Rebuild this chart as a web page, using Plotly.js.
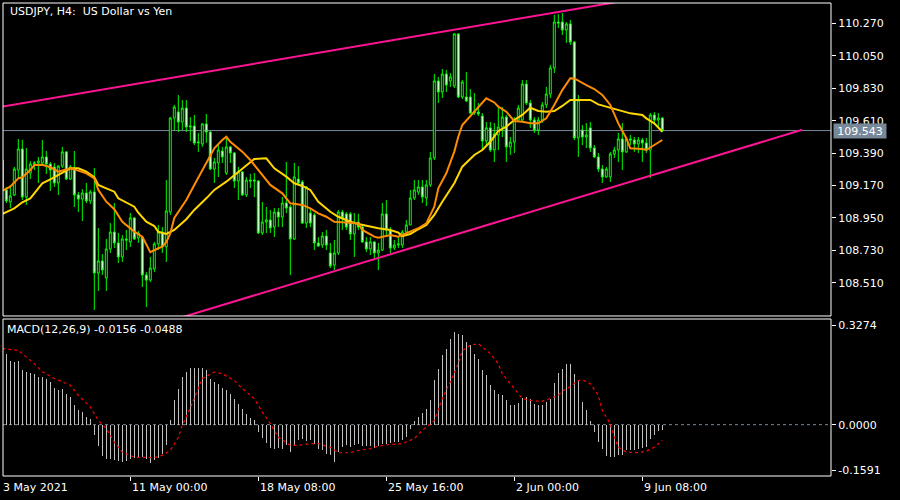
<!DOCTYPE html>
<html>
<head>
<meta charset="utf-8">
<script src="https://cdn.plot.ly/plotly-3.0.1.min.js"></script>
<style>html,body{margin:0;padding:0;background:#000;}#chart{width:900px;height:500px;}</style>
</head>
<body>
<div id="chart"></div>
<script>
// ---------- DATA (USDJPY H4, one value per bar) ----------
const opens = [109.343,109.140,109.058,109.106,109.275,109.418,109.092,109.255,109.316,109.323,
109.323,109.364,109.316,109.296,109.187,109.302,109.398,109.214,109.282,109.106,
109.078,109.119,109.065,109.126,108.576,108.658,108.542,108.739,108.854,108.780,
108.685,108.807,108.787,108.950,108.814,108.820,108.562,108.528,108.603,108.773,
108.854,108.753,108.990,109.628,109.669,109.601,109.696,109.567,109.574,109.459,
109.452,109.588,109.533,109.282,109.323,109.404,109.255,109.432,109.391,109.201,
109.262,109.106,109.207,109.207,109.201,108.848,108.922,108.936,108.888,108.990,
108.956,109.051,109.024,108.807,109.214,109.194,108.915,108.983,108.970,108.780,
108.766,108.827,108.712,108.630,108.712,108.990,108.977,108.977,108.841,108.922,
108.888,108.787,108.739,108.787,108.712,108.732,108.977,108.868,108.746,108.766,
108.766,108.854,108.902,109.085,109.126,109.160,109.085,109.174,109.357,109.880,
109.805,109.927,109.880,109.846,110.199,109.771,109.771,109.771,109.662,109.669,
109.642,109.472,109.561,109.411,109.513,109.567,109.635,109.432,109.465,109.615,
109.615,109.859,109.730,109.615,109.547,109.615,109.717,109.791,109.968,110.280,
110.280,110.226,110.267,110.144,109.493,109.547,109.499,109.561,109.425,109.364,
109.282,109.228,109.228,109.384,109.411,109.486,109.398,109.486,109.479,109.452,
109.479,109.459,109.411,109.649,109.615,109.628];
const highs = [109.377,109.160,109.174,109.296,109.486,109.479,109.425,109.336,109.336,109.364,
109.479,109.404,109.330,109.323,109.309,109.432,109.404,109.309,109.404,109.126,
109.146,109.187,109.140,109.289,108.882,108.705,108.807,108.915,109.051,108.848,
108.834,108.868,108.983,108.956,108.861,108.827,108.583,108.685,108.787,108.902,
108.888,109.207,109.635,109.717,109.784,109.751,109.751,109.635,109.649,109.527,
109.594,109.656,109.540,109.357,109.445,109.432,109.499,109.438,109.398,109.296,
109.269,109.228,109.248,109.255,109.207,109.058,109.024,109.004,109.017,109.017,
109.092,109.330,109.038,109.323,109.302,109.207,109.167,109.017,108.983,108.820,
108.854,108.868,108.780,108.800,109.004,109.004,108.990,108.990,108.983,108.977,
108.895,108.820,108.820,108.793,108.780,109.051,109.072,108.888,108.800,108.820,
108.868,108.936,109.140,109.207,109.207,109.207,109.207,109.398,109.927,109.907,
109.961,109.954,109.934,110.205,110.205,109.886,109.941,109.825,109.798,109.730,
109.662,109.601,109.601,109.594,109.696,109.703,109.649,109.499,109.635,109.717,
109.886,109.886,109.751,109.635,109.635,109.737,109.839,109.988,110.328,110.334,
110.341,110.280,110.294,110.151,109.784,109.581,109.594,109.601,109.445,109.391,
109.309,109.296,109.398,109.432,109.527,109.594,109.499,109.513,109.499,109.499,
109.493,109.493,109.662,109.669,109.662,109.635];
const lows = [109.140,109.051,109.017,109.099,109.221,109.072,109.038,109.214,109.275,109.187,
109.309,109.248,109.133,109.160,109.106,109.289,109.207,109.207,109.024,108.990,
108.929,109.051,109.044,108.325,108.454,108.562,108.454,108.712,108.746,108.644,
108.651,108.732,108.753,108.800,108.780,108.481,108.345,108.515,108.583,108.732,
108.712,108.651,108.970,109.547,109.533,109.547,109.533,109.472,109.445,109.398,
109.432,109.459,109.275,109.187,109.228,109.323,109.241,109.323,109.153,109.072,
109.099,109.092,109.153,109.092,108.841,108.834,108.848,108.848,108.820,108.888,
108.888,108.983,108.562,108.800,109.174,108.909,108.882,108.888,108.732,108.753,
108.746,108.732,108.610,108.596,108.698,108.868,108.868,108.800,108.685,108.868,
108.780,108.719,108.698,108.678,108.596,108.725,108.820,108.712,108.732,108.746,
108.746,108.848,108.902,109.072,109.106,109.051,109.031,109.160,109.343,109.730,
109.764,109.805,109.839,109.832,109.764,109.757,109.737,109.656,109.649,109.642,
109.411,109.445,109.398,109.330,109.411,109.499,109.330,109.377,109.391,109.601,
109.601,109.717,109.561,109.527,109.513,109.594,109.696,109.764,109.934,110.239,
110.192,110.138,110.124,109.479,109.364,109.445,109.425,109.398,109.357,109.262,
109.187,109.221,109.194,109.357,109.330,109.275,109.391,109.445,109.398,109.391,
109.330,109.391,109.221,109.581,109.561,109.533];
const closes = [109.153,109.065,109.099,109.282,109.418,109.092,109.282,109.316,109.323,109.336,
109.364,109.316,109.275,109.187,109.302,109.398,109.214,109.296,109.106,109.078,
109.119,109.065,109.126,108.576,108.658,108.596,108.739,108.854,108.780,108.685,
108.807,108.800,108.950,108.807,108.848,108.562,108.528,108.610,108.773,108.854,
108.753,108.997,109.628,109.703,109.601,109.696,109.567,109.574,109.459,109.465,
109.588,109.533,109.282,109.330,109.411,109.364,109.432,109.391,109.201,109.262,
109.106,109.207,109.201,109.201,108.848,108.922,108.936,108.882,108.990,108.956,
109.051,109.017,108.807,109.228,109.187,108.915,109.160,108.915,108.780,108.759,
108.827,108.766,108.624,108.712,108.990,108.950,108.888,108.841,108.922,108.888,
108.787,108.739,108.787,108.712,108.732,108.977,108.868,108.746,108.766,108.773,
108.854,108.902,109.085,109.140,109.160,109.092,109.174,109.357,109.880,109.805,
109.927,109.852,109.907,110.199,109.771,109.873,109.744,109.662,109.669,109.656,
109.472,109.561,109.411,109.520,109.567,109.635,109.432,109.465,109.615,109.696,
109.859,109.730,109.615,109.547,109.615,109.717,109.791,109.968,110.280,110.273,
110.226,110.267,110.144,109.493,109.751,109.499,109.513,109.425,109.364,109.282,
109.228,109.282,109.384,109.411,109.486,109.398,109.486,109.479,109.452,109.479,
109.459,109.411,109.649,109.615,109.628,109.543];

// fast moving average (orange), read at sampled bars
const fastMaBars = [0,2,4,5,7,8,10,12,14,16,17,19,21,23,24,26,28,30,33,35,36,37,39,40,41,42,43,46,48,51,53,55,56,57,60,62,65,67,70,72,75,77,79,81,83,85,89,90,93,94,97,99,102,104,106,108,109,111,113,114,115,117,119,121,123,124,126,128,130,132,134,136,138,140,142,143,146,148,150,152,154,156,157,160,161,163,165];
const fastMaVals = [109.135,109.162,109.219,109.226,109.275,109.309,109.311,109.294,109.264,109.282,
109.287,109.271,109.253,109.219,109.140,109.060,109.009,108.924,108.857,108.823,
108.766,108.717,108.744,108.755,108.785,108.845,108.950,109.072,109.174,109.321,
109.423,109.479,109.501,109.467,109.400,109.343,109.241,109.174,109.117,109.049,
109.038,109.015,108.981,108.958,108.924,108.920,108.913,108.868,108.823,108.816,
108.834,108.823,108.857,108.880,108.913,109.026,109.151,109.253,109.400,109.501,
109.581,109.642,109.705,109.762,109.734,109.705,109.671,109.608,109.603,109.592,
109.592,109.626,109.717,109.818,109.898,109.897,109.852,109.825,109.785,109.717,
109.592,109.491,109.423,109.418,109.411,109.445,109.479];
// slow moving average (gold)
const slowMaBars = [0,3,5,7,9,10,12,14,16,17,19,21,23,24,26,28,29,31,33,34,36,38,39,41,43,46,48,51,53,56,58,61,63,66,68,71,73,75,77,79,82,84,87,89,92,94,97,99,100,102,104,106,108,110,113,115,118,120,122,124,126,128,130,132,134,136,138,140,142,145,147,149,151,153,155,157,160,161,163,165];
const slowMaVals = [108.977,109.015,109.056,109.083,109.151,109.185,109.212,109.241,109.275,109.287,
109.287,109.264,109.226,109.174,109.151,109.128,109.083,109.053,109.026,108.985,
108.924,108.895,108.856,108.841,108.868,108.941,109.004,109.083,109.140,109.196,
109.241,109.303,109.350,109.355,109.287,109.230,109.185,109.167,109.140,109.060,
108.992,108.958,108.924,108.909,108.890,108.880,108.868,108.850,108.827,108.841,
108.873,108.902,108.970,109.060,109.185,109.298,109.377,109.411,109.467,109.540,
109.569,109.615,109.649,109.698,109.676,109.671,109.676,109.710,109.751,109.753,
109.751,109.721,109.705,109.690,109.671,109.660,109.649,109.626,109.592,109.535];

// trend lines (bar, price anchor points)
const upperTrendBars = [0, 160];
const upperTrendPrices = [109.706, 110.445];
const lowerTrendBars = [40, 200];
const lowerTrendPrices = [108.235, 109.548];

const lastPrice = 109.543;

// MACD(12,26,9)
const macdHist = [0.221,0.220,0.197,0.195,0.197,0.170,0.164,0.160,0.158,0.149,0.148,
0.143,0.133,0.114,0.106,0.109,0.096,0.087,0.062,0.046,0.038,
0.024,0.019,-0.033,-0.067,-0.097,-0.105,-0.107,-0.111,-0.113,-0.116,
-0.114,-0.105,-0.103,-0.103,-0.101,-0.105,-0.118,-0.111,-0.103,-0.090,
-0.064,0.013,0.075,0.112,0.148,0.164,0.177,0.177,0.177,0.177,
0.168,0.143,0.133,0.127,0.115,0.108,0.096,0.081,0.065,0.050,
0.032,0.022,0.013,-0.023,-0.041,-0.056,-0.072,-0.074,-0.072,-0.074,
-0.064,-0.085,-0.066,-0.046,-0.043,-0.051,-0.049,-0.059,-0.074,-0.080,
-0.090,-0.095,-0.116,-0.085,-0.070,-0.064,-0.070,-0.064,-0.061,-0.067,
-0.067,-0.067,-0.072,-0.067,-0.061,-0.059,-0.056,-0.054,-0.054,-0.049,
-0.039,-0.012,0.010,0.024,0.036,0.050,0.075,0.137,0.174,0.215,
0.236,0.267,0.288,0.280,0.277,0.257,0.246,0.220,0.205,0.170,
0.153,0.122,0.106,0.096,0.091,0.075,0.060,0.060,0.067,0.084,
0.087,0.081,0.065,0.060,0.060,0.071,0.081,0.129,0.160,0.174,
0.189,0.189,0.158,0.137,0.071,0.044,0.010,-0.023,-0.054,-0.074,
-0.097,-0.101,-0.101,-0.095,-0.095,-0.080,-0.077,-0.077,-0.074,-0.072,
-0.070,-0.043,-0.033,-0.020,-0.0156];
const signalBars = [0,4,6,8,10,13,15,17,19,22,24,26,28,30,33,35,38,40,42,44,45,47,49,50,53,55,58,60,63,65,67,69,72,74,77,79,82,84,87,89,92,94,97,100,103,105,108,110,112,114,115,117,119,120,122,124,125,127,129,130,133,135,137,139,140,142,144,145,147,149,150,152,153,154,156,159,161,163,165];
const signalVals = [0.236,0.230,0.210,0.189,0.164,0.143,0.133,0.122,0.091,0.055,
0.013,-0.012,-0.054,-0.085,-0.101,-0.101,-0.102,-0.095,-0.080,-0.040,
-0.002,0.052,0.110,0.143,0.163,0.158,0.137,0.112,0.081,0.039,
0.003,-0.039,-0.064,-0.064,-0.059,-0.059,-0.070,-0.087,-0.087,-0.080,
-0.074,-0.067,-0.061,-0.059,-0.043,-0.018,0.013,0.081,0.133,0.189,
0.230,0.246,0.251,0.241,0.220,0.189,0.158,0.127,0.096,0.081,
0.073,0.073,0.081,0.091,0.104,0.118,0.137,0.139,0.127,0.091,
0.044,0.003,-0.039,-0.070,-0.085,-0.087,-0.082,-0.070,-0.0488];

const priceTicks = [110.270,110.050,109.830,109.610,109.390,109.170,108.950,108.730,108.510];
const macdTickText = ['0.3274','0.0000','-0.1591'];
const macdMax = 0.3274, macdMin = -0.1591;
const dateTickBars = [32,64,96,128,160];
const dateTickLabels = ['11 May 00:00','18 May 08:00','25 May 16:00','2 Jun 00:00','9 Jun 08:00'];
const firstDateLabel = '3 May 2021';
const chartTitle = 'USDJPY, H4:\u00a0 US Dollar vs Yen';
const macdTitle = 'MACD(12,26,9) -0.0156 -0.0488';

// ---------- CHART ----------
const barIndex = opens.map((_, i) => i);
const FONT = 'DejaVu Sans, Verdana, sans-serif';
const WHITE = '#ffffff';
const SLATE = '#778899';

const traces = [
  {type:'candlestick', x:barIndex, open:opens, high:highs, low:lows, close:closes,
   xaxis:'x', yaxis:'y', whiskerwidth:0, hoverinfo:'skip', showlegend:false,
   increasing:{line:{color:'#00ff00', width:1}, fillcolor:'#000000'},
   decreasing:{line:{color:'#00ff00', width:1}, fillcolor:'#ffffff'}},
  {type:'scatter', mode:'lines', x:slowMaBars, y:slowMaVals, xaxis:'x', yaxis:'y',
   line:{color:'#ffd700', width:2}, hoverinfo:'skip', showlegend:false},
  {type:'scatter', mode:'lines', x:fastMaBars, y:fastMaVals, xaxis:'x', yaxis:'y',
   line:{color:'#ff8c00', width:2}, hoverinfo:'skip', showlegend:false},
  {type:'scatter', mode:'lines', x:upperTrendBars, y:upperTrendPrices, xaxis:'x', yaxis:'y',
   line:{color:'#ff1493', width:2}, hoverinfo:'skip', showlegend:false},
  {type:'scatter', mode:'lines', x:lowerTrendBars, y:lowerTrendPrices, xaxis:'x', yaxis:'y',
   line:{color:'#ff1493', width:2}, hoverinfo:'skip', showlegend:false},
  {type:'bar', x:barIndex, y:macdHist, width:0.25, xaxis:'x', yaxis:'y2',
   marker:{color:'#c0c0c0', line:{width:0}}, hoverinfo:'skip', showlegend:false},
  {type:'scatter', mode:'lines', x:signalBars, y:signalVals, xaxis:'x', yaxis:'y2',
   line:{color:'#ff0000', width:1.2, dash:'3px,3px'}, hoverinfo:'skip', showlegend:false}
];

const pad = 6 / 322.7; // keep the edge labels inside the panel, as in the terminal
const annotations = [
  {xref:'paper', yref:'paper', x:0.006, y:0.981, xanchor:'left', yanchor:'middle', showarrow:false,
   text:chartTitle, font:{family:FONT, size:11, color:WHITE}},
  {xref:'paper', yref:'paper', x:0.003, y:0.309, xanchor:'left', yanchor:'middle', showarrow:false,
   text:macdTitle, font:{family:FONT, size:11, color:WHITE}},
  {xref:'paper', yref:'paper', x:-0.002, y:-0.024, xanchor:'left', yanchor:'middle', showarrow:false,
   text:firstDateLabel, font:{family:FONT, size:11, color:WHITE}},
  {xref:'paper', yref:'y', x:1.0025, y:lastPrice, xanchor:'left', yanchor:'middle', showarrow:false,
   text:lastPrice.toFixed(3), bgcolor:SLATE, width:50, height:12, borderpad:1,
   font:{family:FONT, size:11, color:WHITE}}
];
dateTickBars.forEach((b, i) => annotations.push({
  xref:'x', yref:'paper', x:b, y:-0.024, xanchor:'left', yanchor:'middle', showarrow:false,
  text:dateTickLabels[i], font:{family:FONT, size:11, color:WHITE}
}));

const shapes = [
  {type:'line', xref:'paper', yref:'y', x0:0, x1:1, y0:lastPrice, y1:lastPrice,
   line:{color:SLATE, width:1}, layer:'below'},
  {type:'line', xref:'paper', yref:'y2', x0:0, x1:1, y0:0, y1:0,
   line:{color:SLATE, width:1, dash:'3px,3px'}, layer:'below'},
  {type:'rect', xref:'paper', yref:'y domain', x0:0, x1:1, y0:0, y1:1,
   line:{color:WHITE, width:1}, layer:'above'},
  {type:'rect', xref:'paper', yref:'y2 domain', x0:0, x1:1, y0:0, y1:1,
   line:{color:WHITE, width:1}, layer:'above'}
];

const layout = {
  width:900, height:500,
  margin:{l:3, r:69, t:3, b:24},
  paper_bgcolor:'#000000', plot_bgcolor:'#000000',
  showlegend:false,
  font:{family:FONT, size:11, color:WHITE},
  xaxis:{anchor:'y2', range:[0.175, 207.175], rangeslider:{visible:false},
    showgrid:false, zeroline:false, showline:false,
    tickmode:'array', tickvals:dateTickBars, showticklabels:false,
    ticks:'outside', ticklen:4, tickcolor:WHITE, tickwidth:1},
  yaxis:{domain:[0.3383, 1], anchor:'x', side:'right', range:[108.2842, 110.4091],
    showgrid:false, zeroline:false, showline:false,
    tickmode:'array', tickvals:priceTicks, ticktext:priceTicks.map(v => v.toFixed(3)),
    ticks:'outside', ticklen:4, tickcolor:WHITE, tickwidth:1,
    tickfont:{family:FONT, size:11, color:WHITE}},
  yaxis2:{domain:[0, 0.3319], anchor:'x', side:'right', range:[macdMin, macdMax],
    showgrid:false, zeroline:false, showline:false,
    tickmode:'array', tickvals:[macdMax - pad, 0, macdMin + pad], ticktext:macdTickText,
    ticks:'outside', ticklen:4, tickcolor:WHITE, tickwidth:1,
    tickfont:{family:FONT, size:11, color:WHITE}},
  bargap:0,
  annotations:annotations,
  shapes:shapes
};

Plotly.newPlot('chart', traces, layout, {staticPlot:true, displayModeBar:false});
</script>
</body>
</html>
